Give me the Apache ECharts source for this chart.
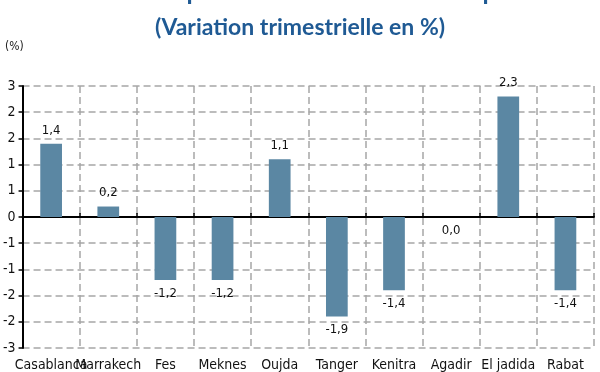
<!DOCTYPE html>
<html>
<head>
<meta charset="utf-8">
<script src="https://cdn.jsdelivr.net/npm/echarts@6/dist/echarts.min.js"></script>
<style>html,body{margin:0;padding:0;background:#fff}#c{width:600px;height:372px}</style>
</head>
<body>
<div id="c"></div>
<script>
const categories = ["Casablanca","Marrakech","Fes","Meknes","Oujda","Tanger","Kenitra","Agadir","El jadida","Rabat"];
const values = [1.4, 0.2, -1.2, -1.2, 1.1, -1.9, -1.4, 0.0, 2.3, -1.4];
const titleMain = "Evolution des prix des actifs immobiliers par ville";
const titleSub = "(Variation trimestrielle en %)";
const unitLabel = "(%)";

const narrow = '"Liberation Sans Narrow", "DejaVu Sans Condensed", sans-serif';
const chart = echarts.init(document.getElementById('c'));
function roundAway(v){ const s = v < 0 ? -1 : 1; return String(s * Math.round(Math.abs(v) + 1e-9)); }
const gridDash = {color:'#a6a6a6', width:1.5, type:[7,4]};

chart.setOption({
  animation:false,
  graphic:[
    {type:'text', left:'center', top:-21, style:{text:titleMain, font:'bold 25px Lato, sans-serif', fill:'#1F5A94'}},
    {type:'text', left:'center', top:16, style:{text:titleSub, font:'bold 23px Lato, sans-serif', fill:'#1F5A94'}},
    {type:'text', left:5, top:41, style:{text:unitLabel, font:'12px '+narrow, fill:'#222'}}
  ],
  grid:{left:21, right:6, top:86, bottom:15, containLabel:false},
  xAxis:[{
    type:'category', data:categories, position:'bottom',
    axisLine:{show:false, onZero:false}, axisTick:{show:false},
    axisLabel:{show:true, interval:0, margin:10, fontSize:14, color:'#111', fontFamily:narrow},
    splitLine:{show:true, interval:0, lineStyle:gridDash}
  },{
    type:'category', data:categories,
    axisLine:{show:true, onZero:true, lineStyle:{color:'#000', width:2}},
    axisTick:{show:true, interval:0, length:4, inside:false, lineStyle:{color:'#000', width:1.5}},
    axisLabel:{show:false}, splitLine:{show:false}
  }],
  yAxis:{
    type:'value', min:-2.5, max:2.5, interval:0.5,
    axisLine:{show:true, onZero:false, lineStyle:{color:'#000', width:2}},
    axisTick:{show:true, length:4, lineStyle:{color:'#000', width:1.5}},
    axisLabel:{margin:7, fontSize:14, color:'#111', fontFamily:narrow, formatter:v=>roundAway(v)},
    splitLine:{show:true, lineStyle:gridDash}
  },
  series:[{
    type:'bar', xAxisIndex:0, barWidth:'38%',
    itemStyle:{color:'#5B87A3'},
    data: values.map(v=>({value:v, label:{position: v > 0 ? 'top' : 'bottom'}})),
    label:{show:true, distance:7, fontSize:13, color:'#111', fontFamily:narrow,
      formatter:p=>p.value.toFixed(1).replace('.',',')}
  }]
});
</script>
</body>
</html>
